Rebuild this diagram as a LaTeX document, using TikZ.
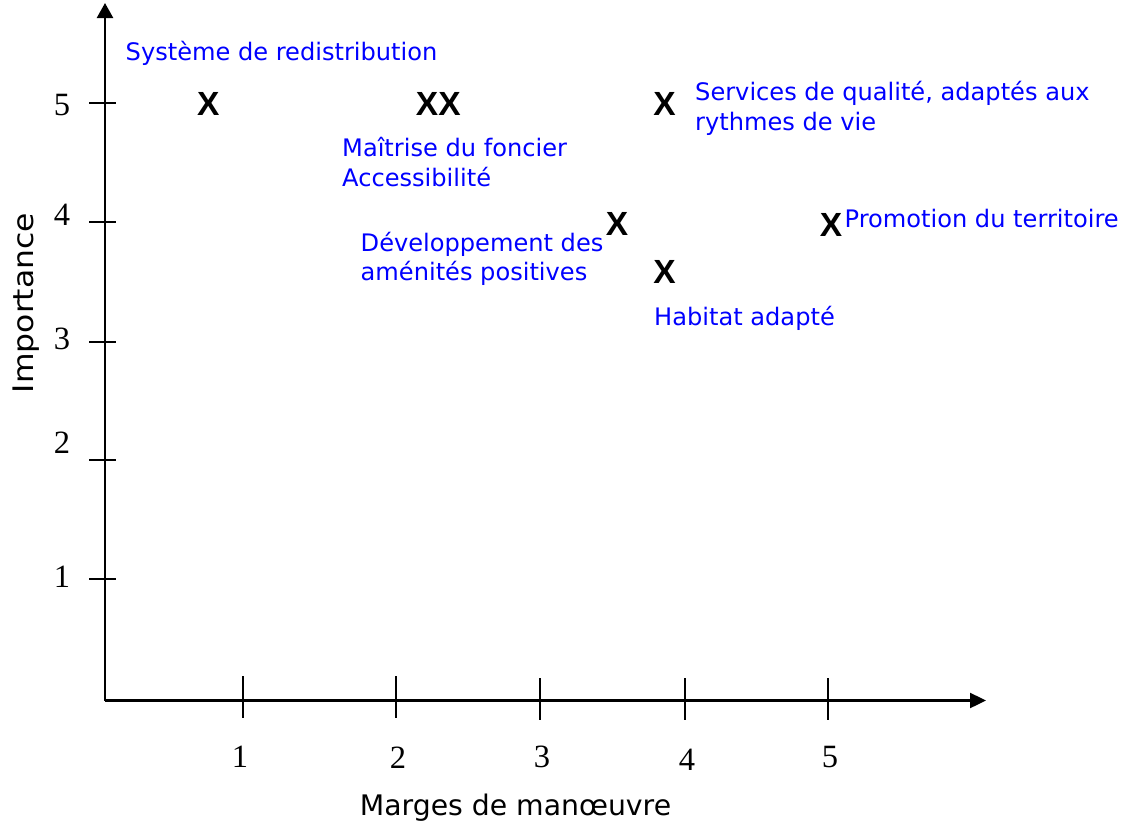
\documentclass[tikz,border=0pt]{standalone}
\usepackage{fontspec}
\setmainfont{DejaVu Sans}
\newfontfamily\numfont{Liberation Serif}
\newfontfamily\xmfont{Liberation Sans}
\usetikzlibrary{arrows.meta}
\definecolor{lblue}{RGB}{0,0,255}
\begin{document}
\begin{tikzpicture}[x=1bp,y=-1bp,
  axis/.style={line width=2.4bp},
  tickline/.style={line width=2bp},
  lab/.style={inner sep=0pt, anchor=base west, text=lblue, align=left,
    font=\fontsize{24.1bp}{29.5bp}\selectfont},
  num/.style={inner sep=0pt, anchor=base, font=\numfont\fontsize{32.5bp}{32.5bp}\selectfont},
  xm/.style={inner sep=0pt, font=\xmfont\bfseries\fontsize{33.5bp}{33.5bp}\selectfont},
  axtitle/.style={inner sep=0pt, anchor=base, font=\fontsize{28.3bp}{28.3bp}\selectfont}]
\useasboundingbox (0,0) rectangle (1128,828);
% axes
\coordinate (O) at (105,700.5);
\coordinate (ytip) at (105,3);
\coordinate (xtip) at (986,700.5);
\draw[axis,-{Triangle[length=15bp,width=16bp]}] (O) -- (ytip);
\draw[axis,-{Triangle[length=16bp,width=15bp]}] (O) -- (xtip);
% y ticks and labels
\foreach \n/\ty/\ly in {5/103/115, 4/222/225, 3/341.5/349, 2/460/453, 1/579/587}{
  \coordinate (yt\n a) at (89,\ty);
  \coordinate (yt\n b) at (116,\ty);
  \draw[tickline] (yt\n a) -- (yt\n b);
  \node[num] (yl\n) at (62,\ly) {\n};
}
% x ticks and labels
\foreach \n/\tx/\lx/\ty/\ly in {1/243/240/676/767, 2/396/398/676/768, 3/540/542/678/767, 4/685/687/678/770, 5/828/830/678/767}{
  \coordinate (xt\n a) at (\tx,\ty);
  \coordinate (xt\n b) at (\tx,\ty+42);
  \draw[tickline] (xt\n a) -- (xt\n b);
  \node[num] (xl\n) at (\lx,\ly) {\n};
}
% axis titles
\node[axtitle, rotate=90] (ytitle) at (33,303) {\scalebox{1.11}[1]{Importance}};
\node[axtitle] (xtitle) at (515.5,815) {Marges de manœuvre};
% marks
\node[xm] (m1) at (208.3,104.2) {X};
\node[xm] (m2) at (438.3,104) {XX};
\node[xm] (m3) at (664.5,104) {X};
\node[xm] (m4) at (617,224.2) {X};
\node[xm] (m5) at (664.5,271.7) {X};
\node[xm] (m6) at (831,224.5) {X};
% labels (base anchor = baseline of last line)
\node[lab] (l1) at (125.5,60) {Système de redistribution};
\node[lab] (l2) at (342,186) {Maîtrise du foncier\\Accessibilité};
\node[lab] (l3) at (695,130) {Services de qualité, adaptés aux\\rythmes de vie};
\node[lab, font=\fontsize{24.1bp}{28.5bp}\selectfont] (l4) at (360.5,280) {Développement des\\aménités positives};
\node[lab] (l5) at (844.5,227) {Promotion du territoire};
\node[lab] (l6) at (654,325) {Habitat adapté};
\end{tikzpicture}
\end{document}
